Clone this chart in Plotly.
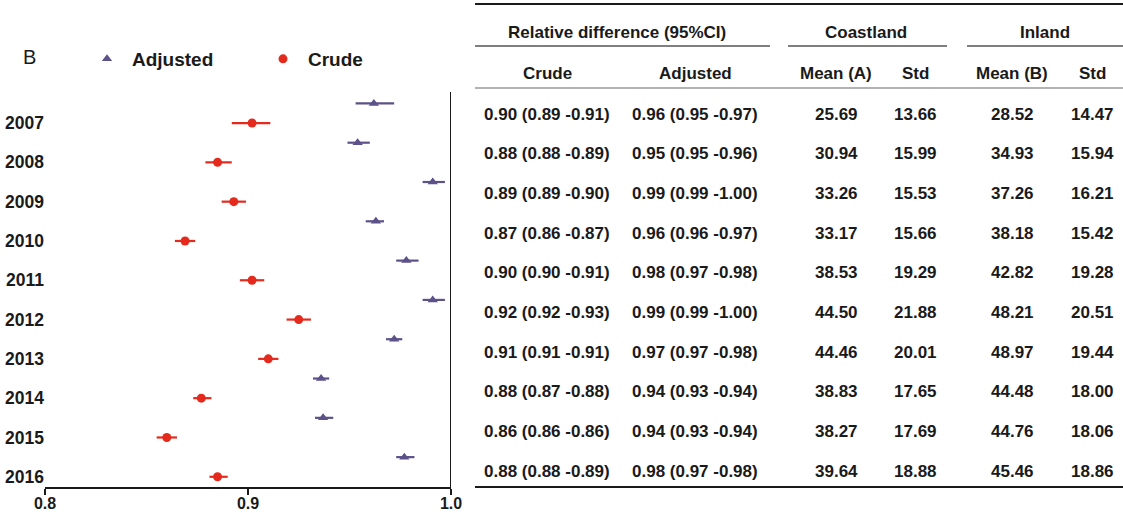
import plotly.graph_objects as go

# ---------------- data ----------------
years = ["2007", "2008", "2009", "2010", "2011", "2012", "2013", "2014", "2015", "2016"]

crude_est = [0.902, 0.885, 0.893, 0.869, 0.902, 0.925, 0.910, 0.877, 0.860, 0.885]
crude_lo = [0.892, 0.879, 0.887, 0.864, 0.896, 0.919, 0.905, 0.873, 0.855, 0.881]
crude_hi = [0.911, 0.892, 0.899, 0.874, 0.908, 0.931, 0.915, 0.882, 0.865, 0.890]

adj_est = [0.962, 0.954, 0.991, 0.963, 0.978, 0.991, 0.972, 0.936, 0.937, 0.977]
adj_lo = [0.953, 0.949, 0.986, 0.958, 0.973, 0.986, 0.968, 0.932, 0.933, 0.973]
adj_hi = [0.972, 0.960, 0.997, 0.967, 0.984, 0.997, 0.976, 0.940, 0.942, 0.982]

crude_ci_text = ["0.90 (0.89 -0.91)", "0.88 (0.88 -0.89)", "0.89 (0.89 -0.90)", "0.87 (0.86 -0.87)",
                 "0.90 (0.90 -0.91)", "0.92 (0.92 -0.93)", "0.91 (0.91 -0.91)", "0.88 (0.87 -0.88)",
                 "0.86 (0.86 -0.86)", "0.88 (0.88 -0.89)"]
adj_ci_text = ["0.96 (0.95 -0.97)", "0.95 (0.95 -0.96)", "0.99 (0.99 -1.00)", "0.96 (0.96 -0.97)",
               "0.98 (0.97 -0.98)", "0.99 (0.99 -1.00)", "0.97 (0.97 -0.98)", "0.94 (0.93 -0.94)",
               "0.94 (0.93 -0.94)", "0.98 (0.97 -0.98)"]
mean_a = ["25.69", "30.94", "33.26", "33.17", "38.53", "44.50", "44.46", "38.83", "38.27", "39.64"]
std_a = ["13.66", "15.99", "15.53", "15.66", "19.29", "21.88", "20.01", "17.65", "17.69", "18.88"]
mean_b = ["28.52", "34.93", "37.26", "38.18", "42.82", "48.21", "48.97", "44.48", "44.76", "45.46"]
std_b = ["14.47", "15.94", "16.21", "15.42", "19.28", "20.51", "19.44", "18.00", "18.06", "18.86"]

group_headers = ["Relative difference (95%CI)", "Coastland", "Inland"]
sub_headers = ["Crude", "Adjusted", "Mean (A)", "Std", "Mean (B)", "Std"]
x_ticks = [0.8, 0.9, 1.0]
x_tick_text = ["0.8", "0.9", "1.0"]

# ---------------- style ----------------
W, H = 1123, 513
FONT = "Liberation Sans, Arial, Helvetica, sans-serif"
RED = "#e42a1d"
PURPLE = "#5c5189"
INK = "#1a1a1a"
TFS = 17  # table font size


def px(x):
    return x / W


def py(y):
    return 1 - y / H


pos = list(range(len(years)))
adj_pos = [p - 0.5 for p in pos]

fig = go.Figure()

fig.add_trace(go.Scatter(
    x=adj_est, y=adj_pos, mode="markers", name="Adjusted",
    marker=dict(symbol="triangle-up", size=9, color=PURPLE),
    error_x=dict(type="data", symmetric=False,
                 array=[h - e for h, e in zip(adj_hi, adj_est)],
                 arrayminus=[e - l for e, l in zip(adj_est, adj_lo)],
                 color=PURPLE, thickness=2.2, width=0),
))
fig.add_trace(go.Scatter(
    x=crude_est, y=pos, mode="markers", name="Crude",
    marker=dict(symbol="circle", size=9, color=RED),
    error_x=dict(type="data", symmetric=False,
                 array=[h - e for h, e in zip(crude_hi, crude_est)],
                 arrayminus=[e - l for e, l in zip(crude_est, crude_lo)],
                 color=RED, thickness=2.2, width=0),
))

plot_top, plot_bot = 92, 487

fig.update_layout(
    width=W, height=H,
    margin=dict(l=0, r=0, t=0, b=0, autoexpand=False),
    paper_bgcolor="white", plot_bgcolor="white",
    font=dict(family=FONT, color=INK),
    showlegend=True,
    legend=dict(orientation="h", x=px(82), xanchor="left", y=py(59), yanchor="middle",
                font=dict(size=19, weight="bold", color=INK, family=FONT),
                itemwidth=40, entrywidth=121, bgcolor="rgba(0,0,0,0)", traceorder="normal"),
    xaxis=dict(domain=[px(45), px(451)], range=[0.8, 1.0], showgrid=False, zeroline=False,
               automargin=False,
               showline=True, linecolor=INK, linewidth=2,
               ticks="outside", ticklen=6, tickwidth=2, tickcolor=INK,
               ticklabelstandoff=-5,
               tickvals=x_ticks, ticktext=x_tick_text,
               tickfont=dict(size=16, weight="bold", color=INK, family=FONT)),
    yaxis=dict(domain=[py(plot_bot), py(plot_top)], range=[9.26, -0.79], showgrid=False,
               automargin=False,
               zeroline=False, showline=False, ticks="",
               tickvals=pos, ticktext=years,
               tickfont=dict(size=17.5, weight="bold", color=INK, family=FONT)),
)

shapes = []
# vertical reference line at 1.0
shapes.append(dict(type="line", xref="x", yref="paper", x0=1.0, x1=1.0,
                   y0=py(plot_bot), y1=py(plot_top), line=dict(color=INK, width=2)))

# table lines
tl, tr = 475, 1123
shapes.append(dict(type="line", xref="paper", yref="paper", x0=px(tl), x1=px(tr),
                   y0=py(4), y1=py(4), line=dict(color=INK, width=2)))
for a, b in [(475, 770), (788, 947), (967, 1123)]:
    shapes.append(dict(type="line", xref="paper", yref="paper", x0=px(a), x1=px(b),
                       y0=py(46), y1=py(46), line=dict(color="#555555", width=1.5)))
shapes.append(dict(type="line", xref="paper", yref="paper", x0=px(tl), x1=px(tr),
                   y0=py(88), y1=py(88), line=dict(color="#666666", width=1.2)))
shapes.append(dict(type="line", xref="paper", yref="paper", x0=px(tl), x1=px(tr),
                   y0=py(487), y1=py(487), line=dict(color=INK, width=2)))
fig.update_layout(shapes=shapes)

ann = []
ann.append(dict(text="B", x=px(21), y=py(57), xref="paper", yref="paper", xanchor="left",
                yanchor="middle", showarrow=False, font=dict(size=20, color=INK, family=FONT)))

group_x = [617, 866, 1045]
for t, x in zip(group_headers, group_x):
    ann.append(dict(text=t, x=px(x), y=py(32), xref="paper", yref="paper", xanchor="center",
                    yanchor="middle", showarrow=False,
                    font=dict(size=TFS, weight="bold", color=INK, family=FONT)))

col_x = [547, 695, 836, 915, 1012, 1092]
for t, x in zip(sub_headers, col_x):
    ann.append(dict(text=t, x=px(x), y=py(73), xref="paper", yref="paper", xanchor="center",
                    yanchor="middle", showarrow=False,
                    font=dict(size=TFS, weight="bold", color=INK, family=FONT)))

row_y0, row_dy = 114, 39.7
cols = [crude_ci_text, adj_ci_text, mean_a, std_a, mean_b, std_b]
for i in range(len(years)):
    y = row_y0 + i * row_dy
    for col, x in zip(cols, col_x):
        ann.append(dict(text=col[i], x=px(x), y=py(y), xref="paper", yref="paper",
                        xanchor="center", yanchor="middle", showarrow=False,
                        font=dict(size=TFS, weight="bold", color=INK, family=FONT)))
fig.update_layout(annotations=ann)

fig.write_html("out.html", config={"displayModeBar": False},
               post_script="document.body.style.margin='0';document.body.style.overflow='hidden';")
